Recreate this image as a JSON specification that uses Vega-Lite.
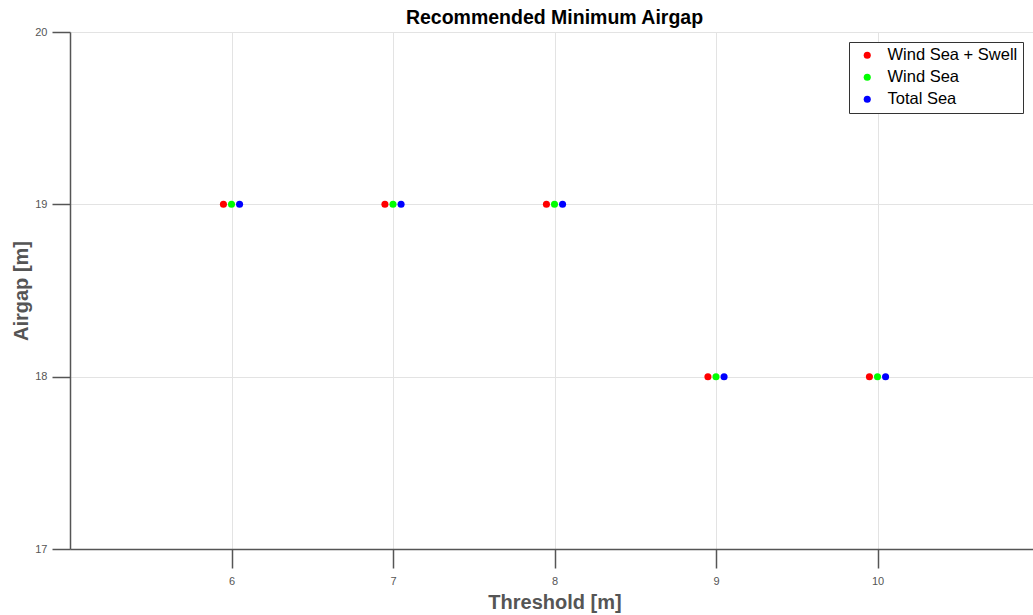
{
  "$schema": "https://vega.github.io/schema/vega-lite/v6.json",
  "width": 969,
  "height": 517,
  "autosize": {"type": "none"},
  "padding": {"left": 70, "top": 32, "right": 0, "bottom": 66},
  "background": "white",
  "title": {
    "text": "Recommended Minimum Airgap",
    "fontSize": 19.5,
    "font": "Liberation Sans",
    "fontWeight": "bold",
    "color": "#000000",
    "anchor": "middle",
    "offset": -2
  },
  "config": {
    "view": {"stroke": null},
    "font": "Liberation Sans"
  },
  "data": {
    "values": [
      {"threshold": 5.95, "airgap": 19, "series": "Wind Sea + Swell"},
      {"threshold": 6.0, "airgap": 19, "series": "Wind Sea"},
      {"threshold": 6.05, "airgap": 19, "series": "Total Sea"},
      {"threshold": 6.95, "airgap": 19, "series": "Wind Sea + Swell"},
      {"threshold": 7.0, "airgap": 19, "series": "Wind Sea"},
      {"threshold": 7.05, "airgap": 19, "series": "Total Sea"},
      {"threshold": 7.95, "airgap": 19, "series": "Wind Sea + Swell"},
      {"threshold": 8.0, "airgap": 19, "series": "Wind Sea"},
      {"threshold": 8.05, "airgap": 19, "series": "Total Sea"},
      {"threshold": 8.95, "airgap": 18, "series": "Wind Sea + Swell"},
      {"threshold": 9.0, "airgap": 18, "series": "Wind Sea"},
      {"threshold": 9.05, "airgap": 18, "series": "Total Sea"},
      {"threshold": 9.95, "airgap": 18, "series": "Wind Sea + Swell"},
      {"threshold": 10.0, "airgap": 18, "series": "Wind Sea"},
      {"threshold": 10.05, "airgap": 18, "series": "Total Sea"}
    ]
  },
  "mark": {"type": "point", "filled": true, "shape": "circle", "size": 50, "opacity": 1},
  "encoding": {
    "x": {
      "field": "threshold",
      "type": "quantitative",
      "scale": {"domain": [5, 11], "nice": false, "zero": false},
      "axis": {
        "values": [6, 7, 8, 9, 10],
        "title": "Threshold [m]",
        "titleFontSize": 20,
        "titleFontWeight": "bold",
        "titleColor": "#555555",
        "titlePadding": 6,
        "labelFontSize": 11,
        "labelColor": "#555555",
        "labelPadding": 7,
        "tickSize": 19,
        "tickColor": "#555555",
        "tickWidth": 1.5,
        "domainColor": "#555555",
        "domainWidth": 1.5,
        "gridColor": "#e3e3e3",
        "gridWidth": 1
      }
    },
    "y": {
      "field": "airgap",
      "type": "quantitative",
      "scale": {"domain": [17, 20], "nice": false, "zero": false},
      "axis": {
        "values": [17, 18, 19, 20],
        "title": "Airgap [m]",
        "titleFontSize": 20,
        "titleFontWeight": "bold",
        "titleColor": "#555555",
        "titlePadding": 3,
        "labelFontSize": 11,
        "labelColor": "#555555",
        "labelPadding": 5,
        "tickSize": 18,
        "tickColor": "#555555",
        "tickWidth": 1.5,
        "domainColor": "#555555",
        "domainWidth": 1.5,
        "gridColor": "#e3e3e3",
        "gridWidth": 1
      }
    },
    "color": {
      "field": "series",
      "type": "nominal",
      "scale": {
        "domain": ["Wind Sea + Swell", "Wind Sea", "Total Sea"],
        "range": ["#ff0000", "#00ff00", "#0000ff"]
      },
      "legend": {
        "title": null,
        "orient": "none",
        "legendX": 779,
        "legendY": 10,
        "strokeColor": "#333333",
        "fillColor": "#ffffff",
        "padding": 5,
        "labelFontSize": 16.5,
        "labelColor": "#000000",
        "symbolSize": 50,
        "symbolType": "circle",
        "symbolOffset": 5,
        "labelOffset": 12,
        "rowPadding": 5,
        "labelLimit": 300
      }
    }
  }
}
